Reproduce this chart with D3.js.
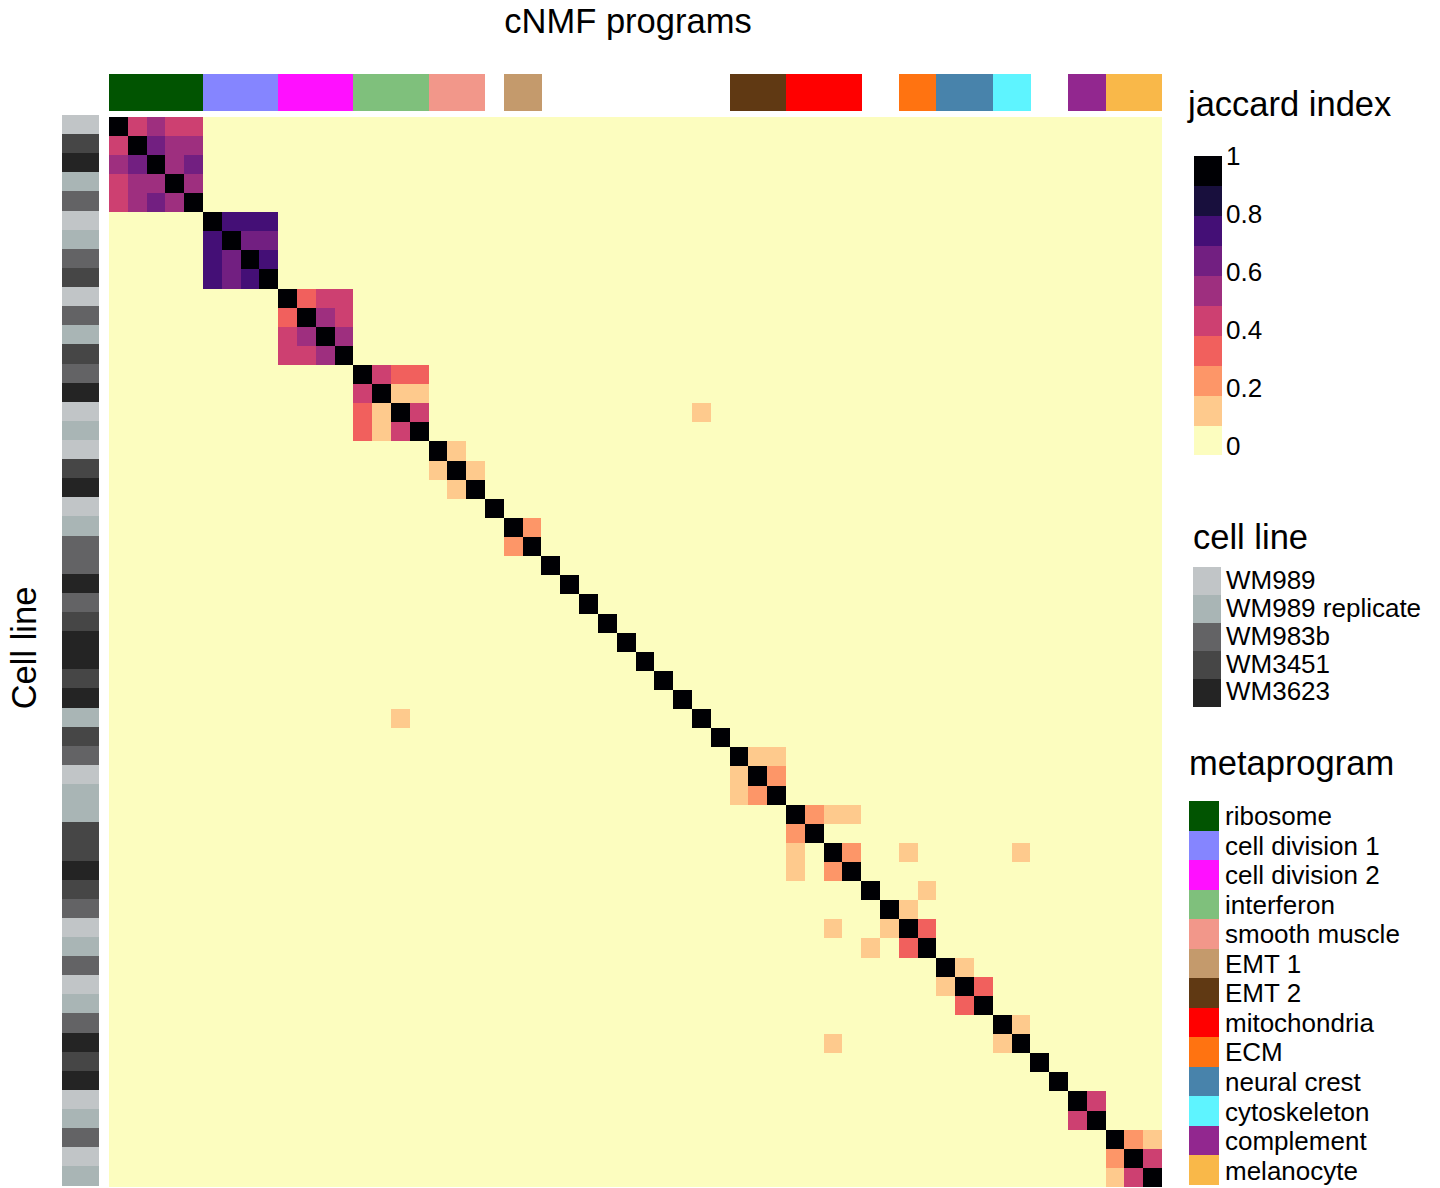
<!DOCTYPE html>
<html>
<head>
<meta charset="utf-8">
<script src="https://cdn.jsdelivr.net/npm/d3@7"></script>
<style>
  body { margin: 0; background: #ffffff; }
  svg { display: block; }
  text { font-family: "Liberation Sans", Arial, Helvetica, sans-serif; fill: #000; }
</style>
</head>
<body>
<svg id="chart" width="1440" height="1188"></svg>
<script>
// ---- data -------------------------------------------------------------
// metaprogram assigned to each cNMF program (column / row order), null = unassigned
const programMeta = [
  "ribosome", "ribosome", "ribosome", "ribosome", "ribosome",
  "cell division 1", "cell division 1", "cell division 1", "cell division 1",
  "cell division 2", "cell division 2", "cell division 2", "cell division 2",
  "interferon", "interferon", "interferon", "interferon",
  "smooth muscle", "smooth muscle", "smooth muscle",
  null,
  "EMT 1", "EMT 1",
  null, null, null, null, null, null, null, null, null, null,
  "EMT 2", "EMT 2", "EMT 2",
  "mitochondria", "mitochondria", "mitochondria", "mitochondria",
  null, null,
  "ECM", "ECM",
  "neural crest", "neural crest", "neural crest",
  "cytoskeleton", "cytoskeleton",
  null, null,
  "complement", "complement",
  "melanocyte", "melanocyte", "melanocyte"
];

// cell line each program was derived from
const programCellLine = [
  "WM989", "WM3451", "WM3623", "WM989 replicate", "WM983b",
  "WM989", "WM989 replicate", "WM983b", "WM3451",
  "WM989", "WM983b", "WM989 replicate", "WM3451",
  "WM983b", "WM3623", "WM989", "WM989 replicate",
  "WM989", "WM3451", "WM3623",
  "WM989",
  "WM989 replicate", "WM983b",
  "WM983b", "WM3623", "WM983b", "WM3451", "WM3623", "WM3623", "WM3451", "WM3623", "WM989 replicate", "WM3451",
  "WM983b", "WM989", "WM989 replicate",
  "WM989 replicate", "WM3451", "WM3451", "WM3623",
  "WM3451", "WM983b",
  "WM989", "WM989 replicate",
  "WM983b", "WM989", "WM989 replicate",
  "WM983b", "WM3623",
  "WM3451", "WM3623",
  "WM989", "WM989 replicate",
  "WM983b", "WM989", "WM989 replicate"
];

// pairwise jaccard index between programs (upper triangle, non-zero only; diagonal = 1)
const jaccardPairs = [
  [0, 1, 0.45], [0, 2, 0.55], [0, 3, 0.45], [0, 4, 0.45],
  [1, 2, 0.65], [1, 3, 0.55], [1, 4, 0.55],
  [2, 3, 0.55], [2, 4, 0.65],
  [3, 4, 0.55],
  [5, 6, 0.75], [5, 7, 0.75], [5, 8, 0.75],
  [6, 7, 0.65], [6, 8, 0.65],
  [7, 8, 0.75],
  [9, 10, 0.35], [9, 11, 0.45], [9, 12, 0.45],
  [10, 11, 0.55], [10, 12, 0.45],
  [11, 12, 0.55],
  [13, 14, 0.45], [13, 15, 0.35], [13, 16, 0.35],
  [14, 15, 0.15], [14, 16, 0.15],
  [15, 16, 0.45],
  [15, 31, 0.15],
  [17, 18, 0.15], [18, 19, 0.15],
  [21, 22, 0.25],
  [33, 34, 0.15], [33, 35, 0.15], [34, 35, 0.25],
  [36, 37, 0.25], [36, 38, 0.15], [36, 39, 0.15], [38, 39, 0.25],
  [38, 42, 0.15], [38, 48, 0.15],
  [40, 43, 0.15], [41, 42, 0.15], [42, 43, 0.35],
  [44, 45, 0.15], [45, 46, 0.35],
  [47, 48, 0.15],
  [51, 52, 0.45],
  [53, 54, 0.25], [53, 55, 0.15], [54, 55, 0.45]
];

const jaccardBreaks = [0.1, 0.2, 0.3, 0.4, 0.5, 0.6, 0.7, 0.8, 0.9];
const jaccardTicks = [0, 0.2, 0.4, 0.6, 0.8, 1];

const cellLineNames = ["WM989", "WM989 replicate", "WM983b", "WM3451", "WM3623"];
const cellLineColors = ["#C1C5C7", "#A9B5B5", "#636365", "#464646", "#242424"];

const metaprogramNames = [
  "ribosome", "cell division 1", "cell division 2", "interferon", "smooth muscle",
  "EMT 1", "EMT 2", "mitochondria", "ECM", "neural crest", "cytoskeleton",
  "complement", "melanocyte"
];
const metaprogramColors = [
  "#015401", "#8585FF", "#FF10FF", "#7FC07C", "#F2978A",
  "#C49A6C", "#603913", "#FF0000", "#FF7311", "#4883AB", "#5EF4FF",
  "#92278F", "#F9B849"
];

// ---- layout -----------------------------------------------------------
const heat = { left: 109, right: 1162, top: 116.5, bottom: 1187 };
const topAnno = { top: 74, bottom: 110.5 };
const leftAnno = { left: 62, right: 99 };
const titleSize = "34.5px";
const labelSize = "26px";

const svg = d3.select("#chart");
svg.append("rect").attr("width", 1440).attr("height", 1188).attr("fill", "#fff");

const n = programMeta.length;
const ids = d3.range(n);

// full symmetric matrix from the pair list
const matrix = ids.map(i => ids.map(j => (i === j ? 1 : 0)));
jaccardPairs.forEach(([i, j, v]) => { matrix[i][j] = v; matrix[j][i] = v; });
const cells = [];
ids.forEach(i => ids.forEach(j => cells.push({ row: i, col: j, value: matrix[i][j] })));

const x = d3.scaleBand().domain(ids).range([heat.left, heat.right]);
const y = d3.scaleBand().domain(ids).range([heat.top, heat.bottom]);

const binColors = d3.range(jaccardBreaks.length + 1).map(k => d3.interpolateMagma(1 - k / jaccardBreaks.length));
const color = d3.scaleThreshold().domain(jaccardBreaks).range(binColors);

const cellLineColor = d3.scaleOrdinal().domain(cellLineNames).range(cellLineColors);
const metaColor = d3.scaleOrdinal().domain(metaprogramNames).range(metaprogramColors);

// ---- heatmap body ------------------------------------------------------
svg.append("g")
  .attr("shape-rendering", "crispEdges")
  .selectAll("rect")
  .data(cells)
  .join("rect")
  .attr("x", d => x(d.col))
  .attr("y", d => y(d.row))
  .attr("width", x.bandwidth() + 0.4)
  .attr("height", y.bandwidth() + 0.4)
  .attr("fill", d => color(d.value));

// ---- metaprogram annotation (top) --------------------------------------
svg.append("g")
  .attr("shape-rendering", "crispEdges")
  .selectAll("rect")
  .data(ids.filter(i => programMeta[i] !== null))
  .join("rect")
  .attr("x", i => x(i))
  .attr("y", topAnno.top)
  .attr("width", x.bandwidth() + 0.4)
  .attr("height", topAnno.bottom - topAnno.top)
  .attr("fill", i => metaColor(programMeta[i]));

// ---- cell line annotation (left) ---------------------------------------
svg.append("g")
  .attr("shape-rendering", "crispEdges")
  .selectAll("rect")
  .data(ids)
  .join("rect")
  .attr("x", leftAnno.left)
  .attr("y", i => y(i) - 1.5)
  .attr("width", leftAnno.right - leftAnno.left)
  .attr("height", y.bandwidth() + 0.4)
  .attr("fill", i => cellLineColor(programCellLine[i]));

// ---- titles ------------------------------------------------------------
svg.append("text")
  .attr("x", 628).attr("y", 33)
  .attr("text-anchor", "middle")
  .style("font-size", titleSize)
  .text("cNMF programs");

svg.append("text")
  .attr("transform", "translate(36,648) rotate(-90)")
  .attr("text-anchor", "middle")
  .style("font-size", titleSize)
  .text("Cell line");

// ---- jaccard index legend ----------------------------------------------
const jl = svg.append("g");
jl.append("text").attr("x", 1188).attr("y", 116).style("font-size", titleSize).text("jaccard index");
const barTop = 156, barBottom = 455;
const binY = d3.scaleBand().domain(d3.range(binColors.length).reverse()).range([barTop, barBottom]);
jl.append("g").attr("shape-rendering", "crispEdges")
  .selectAll("rect")
  .data(d3.range(binColors.length))
  .join("rect")
  .attr("x", 1194).attr("width", 28)
  .attr("y", k => binY(k)).attr("height", binY.bandwidth() + 0.4)
  .attr("fill", k => binColors[k]);
const tickY = d3.scaleLinear().domain([0, 1]).range([445.5, 155.5]);
jl.selectAll("text.tick")
  .data(jaccardTicks)
  .join("text")
  .attr("class", "tick")
  .attr("x", 1226)
  .attr("y", v => tickY(v))
  .attr("dy", "0.36em")
  .style("font-size", labelSize)
  .text(v => d3.format("~g")(v));

// ---- cell line legend --------------------------------------------------
const cl = svg.append("g");
cl.append("text").attr("x", 1193).attr("y", 549).style("font-size", titleSize).text("cell line");
const clY = d3.scaleBand().domain(cellLineNames).range([567, 706.5]);
cl.append("g").attr("shape-rendering", "crispEdges")
  .selectAll("rect").data(cellLineNames).join("rect")
  .attr("x", 1193).attr("width", 28)
  .attr("y", d => clY(d)).attr("height", clY.bandwidth() + 0.4)
  .attr("fill", d => cellLineColor(d));
cl.selectAll("text.item").data(cellLineNames).join("text")
  .attr("class", "item")
  .attr("x", 1226)
  .attr("y", d => clY(d) + clY.bandwidth() / 2 - 1.5)
  .attr("dy", "0.36em")
  .style("font-size", labelSize)
  .text(d => d);

// ---- metaprogram legend ------------------------------------------------
const ml = svg.append("g");
ml.append("text").attr("x", 1189).attr("y", 775).style("font-size", titleSize).text("metaprogram");
const mlY = d3.scaleBand().domain(metaprogramNames).range([801, 1185]);
ml.append("g").attr("shape-rendering", "crispEdges")
  .selectAll("rect").data(metaprogramNames).join("rect")
  .attr("x", 1189).attr("width", 30)
  .attr("y", d => mlY(d)).attr("height", mlY.bandwidth() + 0.4)
  .attr("fill", d => metaColor(d));
ml.selectAll("text.item").data(metaprogramNames).join("text")
  .attr("class", "item")
  .attr("x", 1225)
  .attr("y", d => mlY(d) + mlY.bandwidth() / 2)
  .attr("dy", "0.36em")
  .style("font-size", labelSize)
  .text(d => d);
</script>
</body>
</html>
